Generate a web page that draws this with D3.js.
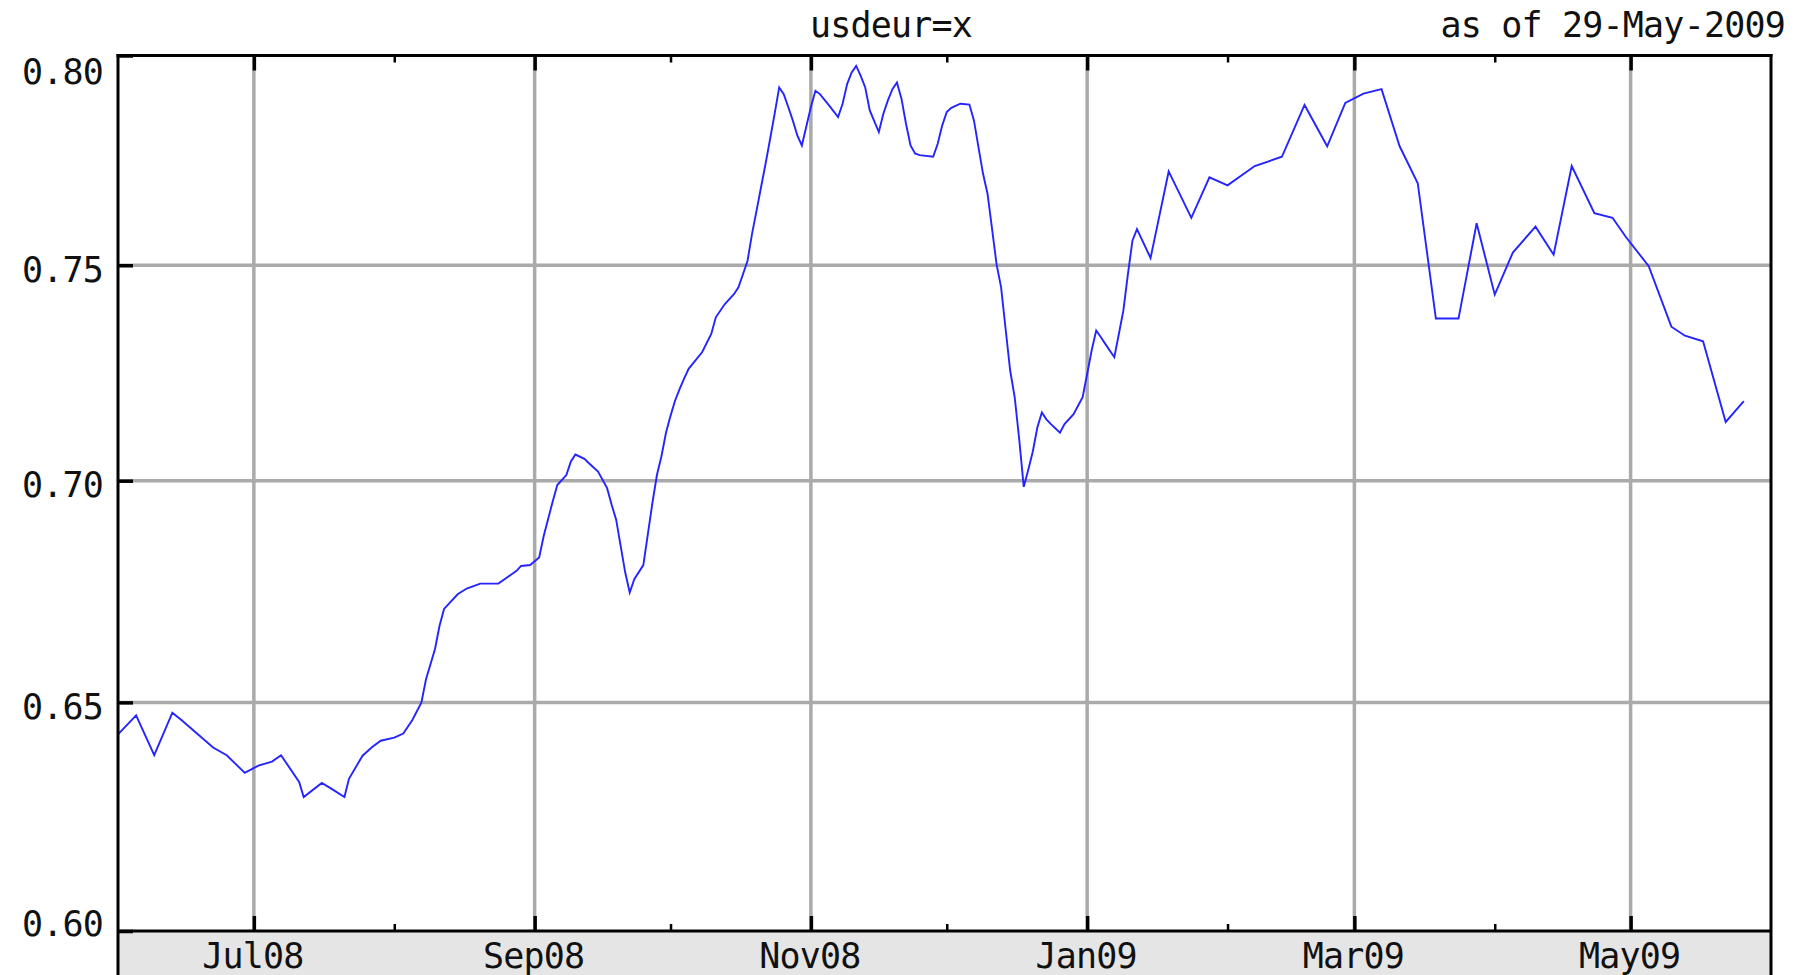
<!DOCTYPE html>
<html><head><meta charset="utf-8">
<script src="https://cdn.jsdelivr.net/npm/d3@7"></script>
<style>
body{margin:0;background:#fff}
svg{display:block}
text{font-family:"DejaVu Sans Mono",monospace;font-size:35px;letter-spacing:-0.8px;fill:#111}
</style>
</head><body><svg id="c" width="1800" height="975"></svg>
<script>
const titleText = "usdeur=x";
const asOfText = "as of 29-May-2009";
const xDomain = ["2008-06-01", "2009-06-01"];
const yDomain = [0.60, 0.80];
const yTicks = [0.60, 0.65, 0.70, 0.75, 0.80];
const yTickLabels = ["0.60", "0.65", "0.70", "0.75", "0.80"];
const majorMonths = ["2008-07-01", "2008-09-01", "2008-11-01", "2009-01-01", "2009-03-01", "2009-05-01"];
const majorLabels = ["Jul08", "Sep08", "Nov08", "Jan09", "Mar09", "May09"];
const minorMonths = ["2008-08-01", "2008-10-01", "2008-12-01", "2009-02-01", "2009-04-01"];

const dates = [
"2008-06-01","2008-06-05","2008-06-09","2008-06-13","2008-06-15","2008-06-22","2008-06-25","2008-06-29",
"2008-07-02","2008-07-05","2008-07-07","2008-07-11","2008-07-12","2008-07-16","2008-07-18","2008-07-21",
"2008-07-22","2008-07-25","2008-07-27","2008-07-29","2008-08-01","2008-08-03","2008-08-05","2008-08-07",
"2008-08-08","2008-08-10","2008-08-11","2008-08-12","2008-08-15","2008-08-17","2008-08-20","2008-08-24",
"2008-08-28","2008-08-29","2008-08-31","2008-09-02","2008-09-03","2008-09-05","2008-09-06","2008-09-08",
"2008-09-09","2008-09-10","2008-09-12","2008-09-13","2008-09-15","2008-09-17","2008-09-18","2008-09-19",
"2008-09-20","2008-09-21","2008-09-22","2008-09-23","2008-09-25",
"2008-09-27","2008-09-28","2008-09-29","2008-09-30","2008-10-01","2008-10-02","2008-10-03","2008-10-04",
"2008-10-05","2008-10-08","2008-10-10","2008-10-11","2008-10-13","2008-10-15","2008-10-16","2008-10-17",
"2008-10-18","2008-10-19","2008-10-20","2008-10-21","2008-10-22","2008-10-23","2008-10-24","2008-10-25",
"2008-10-26","2008-10-27","2008-10-28","2008-10-29","2008-10-30","2008-10-31","2008-11-01","2008-11-02",
"2008-11-03","2008-11-05","2008-11-07","2008-11-08","2008-11-09","2008-11-10","2008-11-11","2008-11-12",
"2008-11-13","2008-11-14","2008-11-16","2008-11-17","2008-11-18","2008-11-19","2008-11-20","2008-11-21",
"2008-11-22","2008-11-23","2008-11-24","2008-11-25","2008-11-28","2008-11-29","2008-11-30","2008-12-01",
"2008-12-02","2008-12-04","2008-12-06","2008-12-07","2008-12-08","2008-12-09","2008-12-10","2008-12-11",
"2008-12-12","2008-12-13","2008-12-14","2008-12-15","2008-12-16","2008-12-17","2008-12-18","2008-12-19",
"2008-12-20","2008-12-21","2008-12-22","2008-12-23","2008-12-24","2008-12-26","2008-12-27","2008-12-29",
"2008-12-31","2009-01-01","2009-01-02","2009-01-03","2009-01-04","2009-01-05","2009-01-07","2009-01-08",
"2009-01-09","2009-01-10","2009-01-11","2009-01-12","2009-01-15","2009-01-19","2009-01-24","2009-01-28",
"2009-02-01","2009-02-07","2009-02-13","2009-02-18","2009-02-23","2009-02-27","2009-03-03","2009-03-07",
"2009-03-11","2009-03-15","2009-03-19","2009-03-24","2009-03-28","2009-04-01","2009-04-05","2009-04-10",
"2009-04-14","2009-04-18","2009-04-23","2009-04-27","2009-04-30","2009-05-05","2009-05-10","2009-05-13",
"2009-05-17","2009-05-22","2009-05-26"
];
const rates = [
0.6429,0.6471,0.6383,0.6477,0.6461,0.6400,0.6383,0.6344,
0.6360,0.6369,0.6383,0.6324,0.6291,0.6322,0.6310,0.6291,
0.6331,0.6382,0.6400,0.6415,0.6422,0.6431,0.6461,0.6500,
0.6551,0.6619,0.6671,0.6709,0.6742,0.6755,0.6766,0.6766,
0.6795,0.6806,0.6808,0.6825,0.6874,0.6953,0.6990,0.7013,
0.7044,0.7060,0.7050,0.7040,0.7021,0.6983,0.6945,0.6911,
0.6851,0.6791,0.6746,0.6776,0.6808,
0.6949,0.7013,0.7056,0.7110,0.7149,0.7184,0.7211,0.7235,
0.7258,0.7297,0.7339,0.7378,0.7409,0.7432,0.7448,0.7479,
0.7510,0.7574,0.7629,0.7685,0.7741,0.7800,0.7860,0.7923,
0.7907,0.7876,0.7844,0.7808,0.7784,0.7830,0.7876,0.7915,
0.7907,0.7880,0.7852,0.7884,0.7931,0.7959,0.7975,0.7951,
0.7923,0.7868,0.7816,0.7860,0.7892,0.7919,0.7935,0.7896,
0.7836,0.7784,0.7765,0.7761,0.7757,0.7788,0.7832,0.7864,
0.7874,0.7884,0.7882,0.7844,0.7780,0.7717,0.7669,0.7586,
0.7502,0.7448,0.7350,0.7254,0.7192,0.7095,0.6986,0.7025,
0.7067,0.7122,0.7157,0.7141,0.7130,0.7110,0.7130,0.7153,
0.7192,0.7246,0.7301,0.7347,0.7332,0.7316,0.7285,0.7339,
0.7394,0.7479,0.7558,0.7585,0.7517,0.7722,0.7612,0.7708,
0.7689,0.7735,0.7757,0.7881,0.7782,0.7886,0.7908,0.7919,
0.7782,0.7694,0.7375,0.7375,0.7599,0.7431,0.7530,0.7591,
0.7525,0.7735,0.7623,0.7612,0.7566,0.7498,0.7356,0.7335,
0.7322,0.7135,0.7183
];

const parse = d3.utcParse("%Y-%m-%d");
const data = dates.map((d, i) => ({date: parse(d), v: rates[i]}));

const W = 1800, H = 975;
const L = 118, R = 1771, T = 55.5, B = 931;

const x = d3.scaleUtc().domain(xDomain.map(parse)).range([L, R]);
const y = d3.scalePow().exponent(0.6).domain(yDomain).range([B, T]);

const svg = d3.select("#c");
svg.append("rect").attr("width", W).attr("height", H).attr("fill", "#fff");
svg.append("rect").attr("x", L).attr("y", B).attr("width", R - L).attr("height", H - B).attr("fill", "#e5e5e5");

const majors = majorMonths.map(parse);
const minors = minorMonths.map(parse);

// grid
const grid = svg.append("g").attr("stroke", "#aaaaaa").attr("stroke-width", 3.5);
grid.selectAll("line.vx").data(majors).join("line")
  .attr("x1", d => x(d)).attr("x2", d => x(d)).attr("y1", T).attr("y2", B);
grid.selectAll("line.hy").data(yTicks.filter(v => v > yDomain[0] && v < yDomain[1])).join("line")
  .attr("x1", L).attr("x2", R).attr("y1", d => y(d)).attr("y2", d => y(d));

// series
svg.append("path").datum(data)
  .attr("fill", "none").attr("stroke", "#2424ff").attr("stroke-width", 1.9)
  .attr("stroke-linejoin", "miter")
  .attr("d", d3.line().x(d => x(d.date)).y(d => y(d.v)));

// ticks via axes
function styleAxis(g, w) {
  g.select(".domain").remove();
  g.selectAll(".tick line").attr("stroke", "#000").attr("stroke-width", w);
  g.selectAll(".tick text").remove();
}
svg.append("g").attr("transform", `translate(0,${B})`)
  .call(d3.axisTop(x).tickValues(majors).tickSize(15).tickFormat(""))
  .call(g => styleAxis(g, 3.5));
svg.append("g").attr("transform", `translate(0,${B})`)
  .call(d3.axisTop(x).tickValues(minors).tickSize(7).tickFormat(""))
  .call(g => styleAxis(g, 2.5));
svg.append("g").attr("transform", `translate(0,${T})`)
  .call(d3.axisBottom(x).tickValues(majors).tickSize(15).tickFormat(""))
  .call(g => styleAxis(g, 3.5));
svg.append("g").attr("transform", `translate(0,${T})`)
  .call(d3.axisBottom(x).tickValues(minors).tickSize(7).tickFormat(""))
  .call(g => styleAxis(g, 2.5));
svg.append("g").attr("transform", `translate(${L},0)`)
  .call(d3.axisRight(y).tickValues(yTicks).tickSize(15).tickFormat(""))
  .call(g => styleAxis(g, 3.5));

// frame
const frame = svg.append("g").attr("stroke", "#000").attr("stroke-width", 3);
frame.append("line").attr("x1", L - 1.5).attr("x2", R + 1.5).attr("y1", T).attr("y2", T);
frame.append("line").attr("x1", L).attr("x2", R).attr("y1", B).attr("y2", B);
frame.append("line").attr("x1", L).attr("x2", L).attr("y1", T - 1.5).attr("y2", H);
frame.append("line").attr("x1", R).attr("x2", R).attr("y1", T - 1.5).attr("y2", H);

// x labels
svg.selectAll("text.xl").data(majors).join("text").attr("class", "xl")
  .attr("x", d => x(d) - 1).attr("y", 968).attr("text-anchor", "middle")
  .text((d, i) => majorLabels[i]);

// y labels
svg.selectAll("text.yl").data(yTicks).join("text").attr("class", "yl")
  .attr("x", 103).attr("text-anchor", "end")
  .attr("y", d => Math.min(Math.max(y(d) + 16.8, T + 28.5), B + 5))
  .text((d, i) => yTickLabels[i]);

// titles
svg.append("text").attr("x", 891).attr("y", 37).attr("text-anchor", "middle").text(titleText);
svg.append("text").attr("x", 1785).attr("y", 37).attr("text-anchor", "end").text(asOfText);
</script>
</body></html>
